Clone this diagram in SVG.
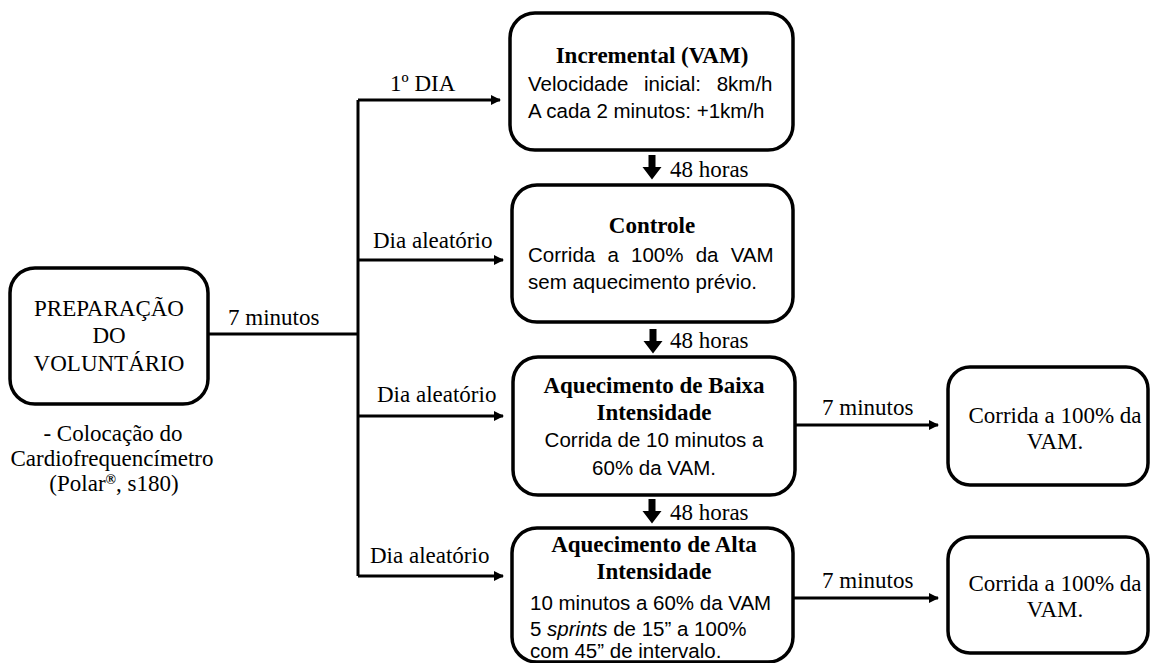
<svg xmlns="http://www.w3.org/2000/svg" width="1153" height="663" viewBox="0 0 1153 663">
<style>
.box{fill:#fff;stroke:#000;stroke-width:3.5}
.ln{fill:none;stroke:#000;stroke-width:3}
.t{font-family:"Liberation Serif","Times New Roman",serif;font-size:23px;fill:#000}
.b{font-family:"Liberation Serif","Times New Roman",serif;font-size:23px;font-weight:bold;fill:#000}
.s{font-family:"Liberation Sans",Arial,sans-serif;font-size:20.5px;fill:#000}
.m{text-anchor:middle}
</style>
<defs>
<marker id="ah" markerWidth="10" markerHeight="10" refX="9" refY="5" orient="auto" markerUnits="userSpaceOnUse" viewBox="0 0 10 10">
<path d="M0,0 L10,5 L0,10 z" fill="#000"/>
</marker>
<path id="blk" d="M-3.5,0 h7 v12 h6 l-9.5,12.5 l-9.5,-12.5 h6 z" fill="#000"/>
</defs>
<rect width="1153" height="663" fill="#fff"/>
<g id="connectors">
<path class="ln" d="M208,334 H358"/>
<path class="ln" d="M358,576 V100"/>
<path class="ln" d="M358,100 H500" marker-end="url(#ah)"/>
<path class="ln" d="M358,260 H503" marker-end="url(#ah)"/>
<path class="ln" d="M358,416 H503" marker-end="url(#ah)"/>
<path class="ln" d="M358,576 H503" marker-end="url(#ah)"/>
<path class="ln" d="M795,425 H938" marker-end="url(#ah)"/>
<path class="ln" d="M793,598 H938" marker-end="url(#ah)"/>
<use href="#blk" x="652" y="155"/>
<use href="#blk" x="653" y="329"/>
<use href="#blk" x="652" y="499"/>
<text class="t" x="228" y="325">7 minutos</text>
<text class="t" x="390" y="91">1º DIA</text>
<text class="t" x="373" y="248">Dia aleatório</text>
<text class="t" x="377" y="402">Dia aleatório</text>
<text class="t" x="370" y="563">Dia aleatório</text>
<text class="t" x="670" y="177">48 horas</text>
<text class="t" x="670" y="348">48 horas</text>
<text class="t" x="670" y="520">48 horas</text>
<text class="t" x="822" y="415">7 minutos</text>
<text class="t" x="822" y="588">7 minutos</text>
</g>
<g id="prep">
<rect class="box" x="10" y="268" width="198" height="136" rx="25"/>
<text class="t m" x="109" y="316">PREPARAÇÃO</text>
<text class="t m" x="109" y="343">DO</text>
<text class="t m" x="109" y="371">VOLUNTÁRIO</text>
<text class="t m" x="113" y="441">- Colocação do</text>
<text class="t m" x="112" y="466">Cardiofrequencímetro</text>
<text class="t m" x="114" y="491">(Polar<tspan font-size="14" font-weight="bold" baseline-shift="super">®</tspan>, s180)</text>
</g>
<g id="incremental">
<rect class="box" x="510" y="13" width="283" height="137" rx="25"/>
<text class="b m" x="652" y="63">Incremental (VAM)</text>
<text class="s" x="528" y="91" word-spacing="10">Velocidade inicial: 8km/h</text>
<text class="s" x="528" y="118">A cada 2 minutos: +1km/h</text>
</g>
<g id="controle">
<rect class="box" x="512" y="185" width="281" height="137" rx="25"/>
<text class="b m" x="652" y="233">Controle</text>
<text class="s" x="528" y="262" word-spacing="6.5">Corrida a 100% da VAM</text>
<text class="s" x="528" y="289">sem aquecimento prévio.</text>
</g>
<g id="baixa">
<rect class="box" x="513" y="357" width="282" height="138" rx="25"/>
<text class="b m" x="654" y="393">Aquecimento de Baixa</text>
<text class="b m" x="654" y="420">Intensidade</text>
<text class="s m" x="654" y="447">Corrida de 10 minutos a</text>
<text class="s m" x="654" y="475">60% da VAM.</text>
</g>
<g id="alta">
<rect class="box" x="512" y="528" width="281" height="134" rx="25"/>
<text class="b m" x="654" y="552">Aquecimento de Alta</text>
<text class="b m" x="654" y="579">Intensidade</text>
<text class="s" x="530" y="610">10 minutos a 60% da VAM</text>
<text class="s" x="530" y="636">5 <tspan font-style="italic">sprints</tspan> de 15” a 100%</text>
<text class="s" x="530" y="658">com 45” de intervalo.</text>
</g>
<g id="corrida1">
<rect class="box" x="948" y="367" width="200" height="118" rx="22"/>
<text class="t m" x="1055" y="423">Corrida a 100% da</text>
<text class="t m" x="1055" y="449">VAM.</text>
</g>
<g id="corrida2">
<rect class="box" x="948" y="537" width="200" height="116" rx="22"/>
<text class="t m" x="1055" y="591">Corrida a 100% da</text>
<text class="t m" x="1055" y="617">VAM.</text>
</g>
</svg>
